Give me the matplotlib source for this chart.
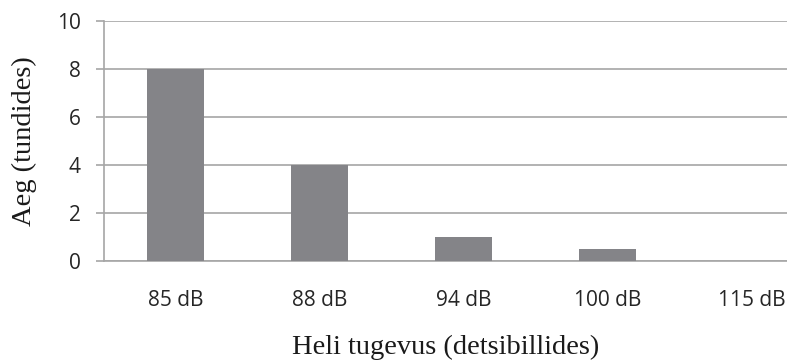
import matplotlib.pyplot as plt
import numpy as np

# Data
categories = ['85 dB', '88 dB', '94 dB', '100 dB', '115 dB']
hours = [8, 4, 1, 0.5, 0]
y_ticks = [0, 2, 4, 6, 8, 10]

fig = plt.figure(figsize=(7.87, 3.62), dpi=100)
ax = fig.add_axes([103.5 / 787, 1 - 261 / 362, (787 - 103.5) / 787, 240 / 362])

x = np.arange(len(categories))
ax.bar(x, hours, width=0.4, color='#848488', zorder=3)

ax.set_xlim(-0.5, 4.246)
ax.set_ylim(0, 10)
ax.set_yticks(y_ticks)
ax.set_xticks(x)
ax.set_xticklabels(categories)

# Grid and axis styling
grid_col = '#a6a6a6'
ax.yaxis.grid(True, color=grid_col, linewidth=1.2, zorder=0)
for side in ['top', 'right']:
    ax.spines[side].set_visible(False)
ax.spines['left'].set_color(grid_col)
ax.spines['bottom'].set_color(grid_col)
ax.spines['left'].set_linewidth(1.2)
ax.spines['bottom'].set_linewidth(1.2)

ax.tick_params(axis='y', length=6, width=1.2, color=grid_col, pad=10.5,
               labelsize=15, labelcolor='#262626')
ax.tick_params(axis='x', length=0, pad=21, labelsize=15, labelcolor='#262626')
for lbl in ax.get_xticklabels() + ax.get_yticklabels():
    lbl.set_fontfamily('Open Sans')

ax.set_ylabel('Aeg (tundides)', fontfamily='Liberation Serif', fontsize=20.5,
              color='#1a1a1a', labelpad=14)
ax.set_xlabel('Heli tugevus (detsibillides)', fontfamily='Liberation Serif',
              fontsize=20.5, color='#1a1a1a', labelpad=17)

fig.savefig('out.png', dpi=100)
